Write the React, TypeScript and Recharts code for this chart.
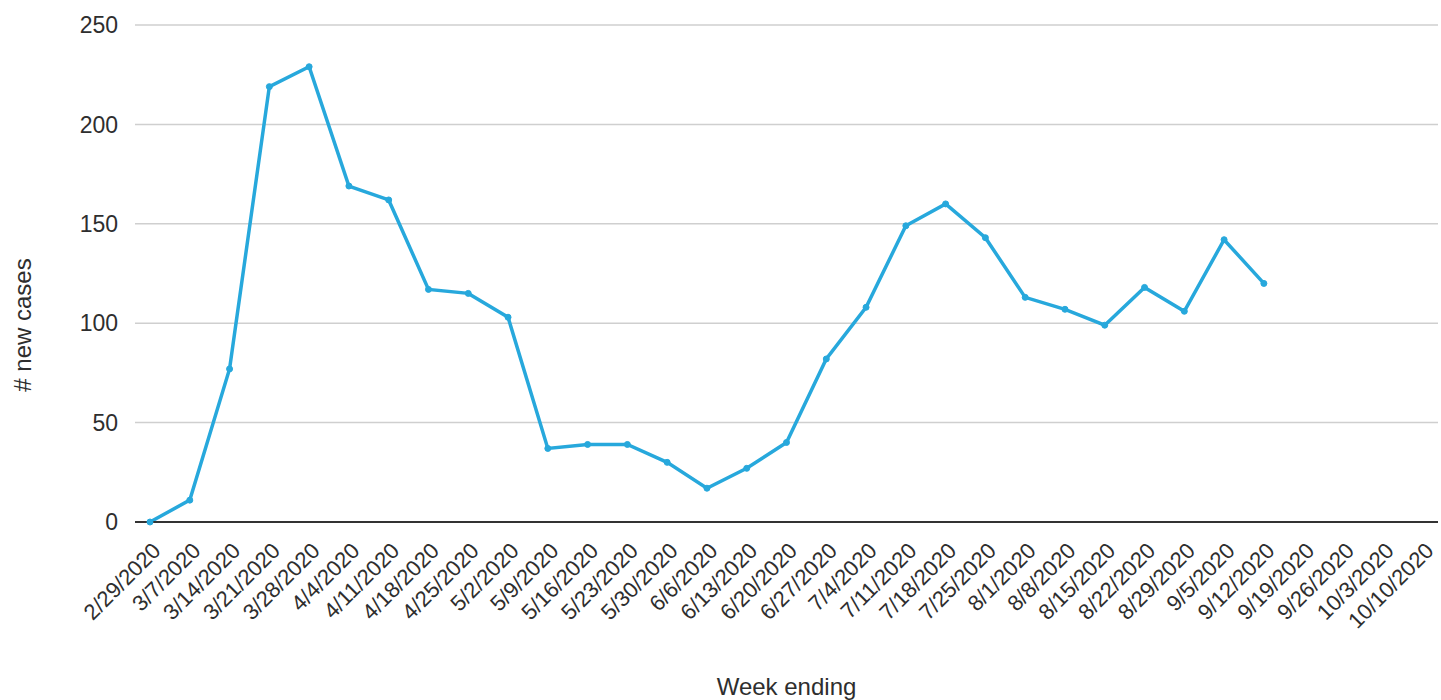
import React from 'react';
import { LineChart, Line, XAxis, YAxis, CartesianGrid, Label } from 'recharts';

const weeks = [
  '2/29/2020', '3/7/2020', '3/14/2020', '3/21/2020', '3/28/2020', '4/4/2020', '4/11/2020',
  '4/18/2020', '4/25/2020', '5/2/2020', '5/9/2020', '5/16/2020', '5/23/2020', '5/30/2020',
  '6/6/2020', '6/13/2020', '6/20/2020', '6/27/2020', '7/4/2020', '7/11/2020', '7/18/2020',
  '7/25/2020', '8/1/2020', '8/8/2020', '8/15/2020', '8/22/2020', '8/29/2020', '9/5/2020',
  '9/12/2020', '9/19/2020', '9/26/2020', '10/3/2020', '10/10/2020',
];

const newCases: (number | null)[] = [
  0, 11, 77, 219, 229, 169, 162, 117, 115, 103, 37, 39, 39, 30, 17, 27, 40, 82, 108, 149,
  160, 143, 113, 107, 99, 118, 106, 142, 120, null, null, null, null,
];

const yTicks = [0, 50, 100, 150, 200, 250];

const data = weeks.map((w, i) => ({ week: w, cases: newCases[i] }));

const FONT = '"Liberation Sans", Arial, Helvetica, sans-serif';
const TEXT = '#2e2e2e';
const LINE = '#27a8dc';

const XTick = (props: any) => {
  const { x, y, payload } = props;
  const ax = x + 12;
  const ay = y + 30;
  return (
    <text
      x={ax}
      y={ay}
      transform={`rotate(-45, ${ax}, ${ay})`}
      textAnchor="end"
      fontFamily={FONT}
      fontSize={22}
      fill={TEXT}
    >
      {payload.value}
    </text>
  );
};

export default function App() {
  return (
    <div style={{ position: 'absolute', left: 0, top: 0, background: '#fff' }}>
      <LineChart
        width={1441}
        height={700}
        data={data}
        margin={{ top: 25, right: 3, left: 0, bottom: 0 }}
      >
        <CartesianGrid vertical={false} stroke="#cfcfcf" strokeWidth={1.5} />
        <XAxis
          dataKey="week"
          height={178}
          interval={0}
          padding={{ left: 15, right: 15 }}
          tickSize={0}
          tickMargin={0}
          tick={<XTick />}
          axisLine={{ stroke: '#333', strokeWidth: 2 }}
          tickLine={false}
        >
          <Label
            content={(p: any) => {
              const vb = p.viewBox;
              return (
                <text
                  x={vb.x + vb.width / 2}
                  y={695}
                  textAnchor="middle"
                  fontFamily={FONT}
                  fontSize={24}
                  fill={TEXT}
                >
                  Week ending
                </text>
              );
            }}
          />
        </XAxis>
        <YAxis
          width={135}
          domain={[0, 250]}
          ticks={yTicks}
          tickSize={0}
          tickMargin={17}
          axisLine={false}
          tickLine={false}
          tick={{ fontFamily: FONT, fontSize: 23, fill: TEXT }}
        >
          <Label
            content={() => (
              <text
                x={31}
                y={325}
                transform="rotate(-90, 31, 325)"
                textAnchor="middle"
                fontFamily={FONT}
                fontSize={24}
                fill={TEXT}
              >
                # new cases
              </text>
            )}
          />
        </YAxis>
        <Line
          type="linear"
          dataKey="cases"
          stroke={LINE}
          strokeWidth={3.5}
          dot={{ r: 3, fill: LINE, stroke: LINE, strokeWidth: 1 }}
          activeDot={false}
          connectNulls={false}
          isAnimationActive={false}
        />
      </LineChart>
    </div>
  );
}
